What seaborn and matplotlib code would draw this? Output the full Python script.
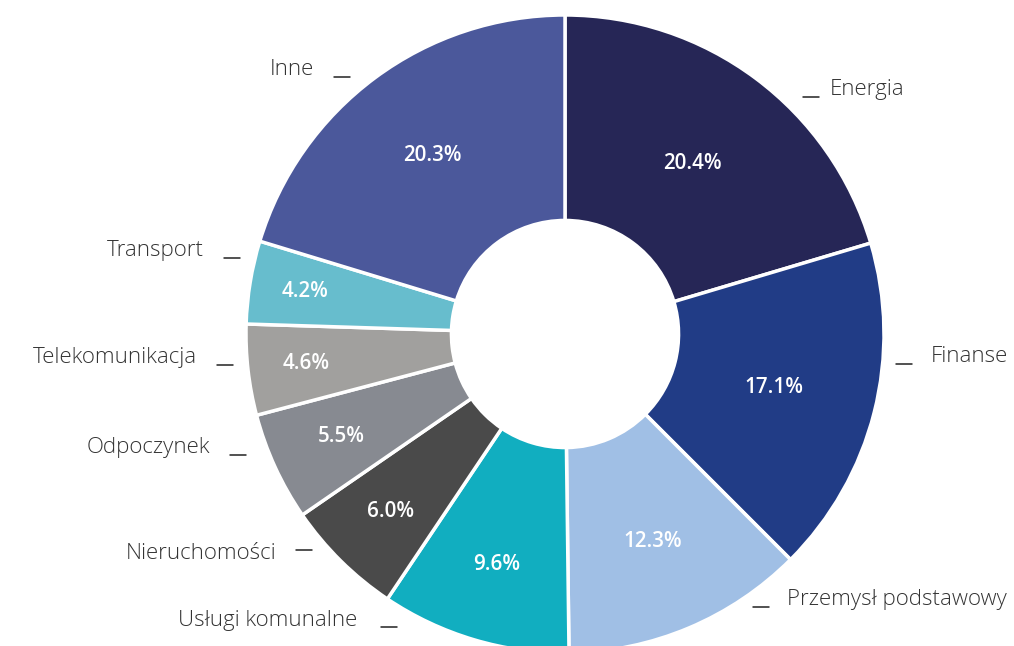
import numpy as np
import matplotlib
matplotlib.use("Agg")
import matplotlib.pyplot as plt
import seaborn as sns

sectors = ["Energia", "Finanse", "Przemysł podstawowy", "Usługi komunalne",
           "Nieruchomości", "Odpoczynek", "Telekomunikacja", "Transport", "Inne"]
shares = [20.4, 17.1, 12.3, 9.6, 6.0, 5.5, 4.6, 4.2, 20.3]
colors = ["#262656", "#213c86", "#a0bfe5", "#11aec0", "#4a4a4a",
          "#878a91", "#a1a09e", "#67bdcd", "#4b589b"]

# layout: where each sector name's dash sits (polar angle in degrees, radius),
# gap from dash to text and text lift in pixels, and percentage distance
label_polar = [(44.9, 1.053), (-5.2, 1.042), (-55.4, 1.039), (240.2, 1.059),
               (220.5, 1.043), (200.8, 1.07), (185.3, 1.045), (166.8, 1.046),
               (130.0, 1.05)]
label_gap = [27, 35, 34, 40, 36, 36, 36, 36, 36]
label_lift = [2, 2, 2, 1, -9, 2, 2, 2, 2]
pct_dist = [0.668, 0.677, 0.705, 0.755, 0.78, 0.771, 0.815, 0.825, 0.696]

sns.set_theme(style="white")
plt.rcParams["font.family"] = ["Open Sans", "DejaVu Sans"]

W, H = 1014, 646
CX, CY, R = 565, 334, 319
fig = plt.figure(figsize=(W / 100, H / 100), dpi=100)
ax = fig.add_axes([0, 0, 1, 1])

wedges, _ = ax.pie(shares, colors=sns.color_palette(colors), startangle=90,
                   counterclock=False, radius=1,
                   wedgeprops=dict(width=0.644, edgecolor="white", linewidth=2.5))

ax.set_xlim(-CX / R, (W - CX) / R)
ax.set_ylim(-(H - CY) / R, CY / R)
ax.set_aspect("equal")
ax.axis("off")

px = 1 / R
for w, val, d in zip(wedges, shares, pct_dist):
    mid = np.deg2rad((w.theta1 + w.theta2) / 2)
    ax.text(d * np.cos(mid), d * np.sin(mid), f"{val:.1f}%", color="white",
            fontsize=14.8, fontweight="semibold", ha="center", va="center")

for name, (ang, rr), gap, lift in zip(sectors, label_polar, label_gap, label_lift):
    a = np.deg2rad(ang)
    x, y = rr * np.cos(a), rr * np.sin(a)
    if np.cos(a) >= 0:
        ax.plot([x, x + 16 * px], [y, y], color="#222222", lw=1.1)
        ax.text(x + gap * px, y + lift * px, name, ha="left", va="baseline",
                fontsize=16, fontweight="light", color="#333333")
    else:
        ax.plot([x - 16 * px, x], [y, y], color="#222222", lw=1.1)
        ax.text(x - gap * px, y + lift * px, name, ha="right", va="baseline",
                fontsize=16, fontweight="light", color="#333333")

fig.savefig("out.png", dpi=100)
